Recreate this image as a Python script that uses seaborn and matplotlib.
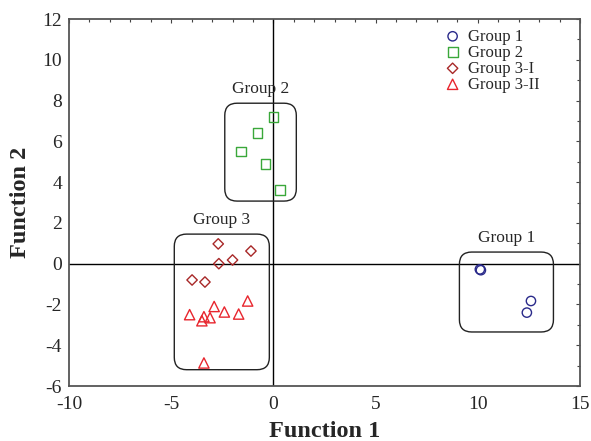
import matplotlib
matplotlib.use("Agg")
import matplotlib.pyplot as plt
import seaborn as sns
import pandas as pd
from matplotlib.patches import FancyBboxPatch
from matplotlib.ticker import MultipleLocator

# Data
g1_x = [10.1, 10.15, 12.6, 12.4]
g1_y = [-0.28, -0.32, -1.83, -2.4]
g2_x = [0.0, -0.78, -1.6, -0.39, 0.34]
g2_y = [7.2, 6.4, 5.5, 4.9, 3.6]
g3i_x = [-2.7, -1.1, -2.0, -2.67, -3.98, -3.35]
g3i_y = [0.97, 0.62, 0.18, 0.0, -0.8, -0.9]
g3ii_x = [-1.26, -2.9, -2.4, -1.7, -4.1, -3.4, -3.1, -3.5, -3.4]
g3ii_y = [-1.83, -2.1, -2.37, -2.47, -2.5, -2.6, -2.65, -2.8, -4.87]

group_names = ["Group 1", "Group 2", "Group 3-I", "Group 3-II"]
markers = ["o", "s", "D", "^"]
colors = ["#2a2a8a", "#3aa83a", "#a82828", "#e8262e"]
sizes = [45, 50, 28, 55]

# Cluster boxes: (x0, y0, x1, y1), label
box_coords = [(9.1, -3.35, 13.7, 0.57), (-2.38, 3.07, 1.12, 7.87), (-4.85, -5.2, -0.2, 1.45)]
box_labels = ["Group 1", "Group 2", "Group 3"]

sns.set_theme(style="white")
plt.rcParams["font.family"] = ["Liberation Serif", "DejaVu Serif"]
plt.rcParams["axes.unicode_minus"] = False

fig = plt.figure(figsize=(5.91, 4.41), dpi=100)
ax = fig.add_axes([0.1168, 0.1247, 0.8646, 0.8322])

data = [(g1_x, g1_y), (g2_x, g2_y), (g3i_x, g3i_y), (g3ii_x, g3ii_y)]
for (xs, ys), name, m, c, s in zip(data, group_names, markers, colors, sizes):
    df = pd.DataFrame({"x": xs, "y": ys})
    sns.scatterplot(data=df, x="x", y="y", ax=ax, marker=m, s=s, color=c,
                    facecolor="none", edgecolor=c, linewidth=1.0, label=name, zorder=3)

ax.axhline(0, color="black", lw=1.0, zorder=1)
ax.axvline(0, color="black", lw=1.0, zorder=1)

for (x0, y0, x1, y1), lab in zip(box_coords, box_labels):
    patch = FancyBboxPatch((x0, y0), x1 - x0, y1 - y0,
                           boxstyle="round,pad=0,rounding_size=0.6",
                           fill=False, ec="#222222", lw=1.0, zorder=2)
    ax.add_patch(patch)
    ax.text((x0 + x1) / 2, y1 + 0.3, lab, ha="center", va="bottom", fontsize=12.5)

ax.set_xlim(-10, 15)
ax.set_ylim(-6, 12)
ax.xaxis.set_major_locator(MultipleLocator(5))
ax.xaxis.set_minor_locator(MultipleLocator(1))
ax.yaxis.set_major_locator(MultipleLocator(2))
ax.yaxis.set_minor_locator(MultipleLocator(1))
ax.tick_params(which="both", direction="in", top=True, right=True, labelsize=14,
               color="#444444", width=0.8)
ax.tick_params(which="major", length=3, pad=5)
ax.tick_params(which="minor", length=2)
ax.tick_params(axis="x", which="major", pad=7)
for sp in ax.spines.values():
    sp.set_color("#555555")
    sp.set_linewidth(1.3)

ax.set_xlabel("Function 1", fontsize=17.5, fontweight="bold", labelpad=6)
ax.set_ylabel("Function 2", fontsize=17.5, fontweight="bold", labelpad=8)

ax.legend(loc="upper left", bbox_to_anchor=(0.705, 1.01), frameon=False, fontsize=12,
          handletextpad=0.3, labelspacing=0.0, borderpad=0.3, handlelength=1.2)

fig.savefig("out.png", dpi=100)
